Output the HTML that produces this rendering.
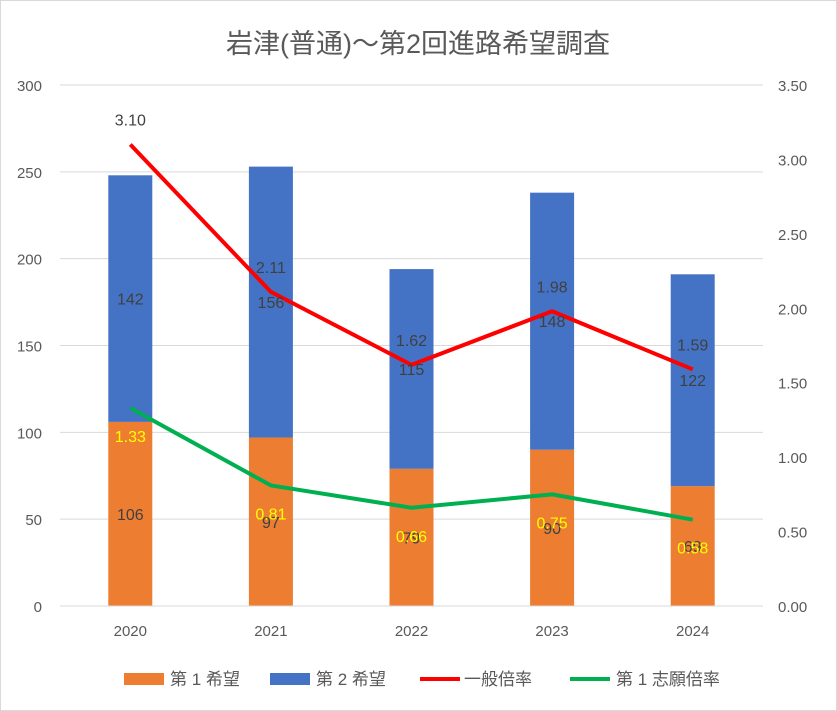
<!DOCTYPE html>
<html><head><meta charset="utf-8">
<style>
body{margin:0;background:#fff;}
svg{display:block;font-family:"Liberation Sans","Noto Sans CJK JP",sans-serif;}
</style></head>
<body>
<svg id="c" width="837" height="711">
<rect x="0.5" y="0.5" width="836" height="710" fill="#fff" stroke="#d9d9d9"/>
<text x="418" y="53" text-anchor="middle" font-size="27" fill="#595959">岩津(普通)～第2回進路希望調査</text>
<g id="grid"></g><g id="bars"></g><g id="lines"></g><g id="labels"></g><g id="axes"></g>
<g id="legend" font-size="17" fill="#595959">
<rect x="124" y="673" width="40" height="12" fill="#ed7d31"/>
<text x="170" y="685">第 1 希望</text>
<rect x="270" y="673" width="40" height="12" fill="#4472c4"/>
<text x="316" y="685">第 2 希望</text>
<line x1="420" y1="679" x2="460" y2="679" stroke="#ff0000" stroke-width="4"/>
<text x="464" y="685">一般倍率</text>
<line x1="570" y1="679" x2="610" y2="679" stroke="#00b050" stroke-width="4"/>
<text x="616" y="685">第 1 志願倍率</text>
</g>
</svg>
<script>
const categories=["2020","2021","2022","2023","2024"];
const first=[106,97,79,90,69];
const second=[142,156,115,148,122];
const general=[3.10,2.11,1.62,1.98,1.59];
const firstRatio=[1.33,0.81,0.66,0.75,0.58];
const leftTicks=[0,50,100,150,200,250,300];
const rightTicks=[0,0.5,1,1.5,2,2.5,3,3.5];
const NS="http://www.w3.org/2000/svg";
const x0=60,x1=763,yB=606,yT=85;
const yL=v=>yB-(v/300)*(yB-yT);
const yR=v=>yB-(v/3.5)*(yB-yT);
const step=(x1-x0)/categories.length;
const xc=i=>x0+step*(i+0.5);
function mk(p,tag,a,t){const e=document.createElementNS(NS,tag);for(const k in a)e.setAttribute(k,a[k]);if(t!==undefined)e.textContent=t;document.getElementById(p).appendChild(e);return e;}
leftTicks.forEach(v=>{
 if(v>0){const g=mk("grid","line",{x1:x0,x2:x1,y1:yL(v),y2:yL(v),stroke:"#d9d9d9"});
 
 }
 const t=mk("axes","text",{x:42,y:yL(v)+6,"text-anchor":"end","font-size":"15",fill:"#595959"},v);
 
 
});
const base=mk("axes","line",{x1:x0,x2:x1,y1:yB,y2:yB,stroke:"#d9d9d9"});


rightTicks.forEach(v=>{
 const t=mk("axes","text",{x:778,y:yR(v)+6,"font-size":"15",fill:"#595959"},v.toFixed(2));
 
 
});
categories.forEach((c,i)=>{
 const t=mk("axes","text",{x:xc(i),y:636,"text-anchor":"middle","font-size":"15",fill:"#595959"},c);
 
 
 const bw=44;
 const b1=mk("bars","rect",{x:xc(i)-bw/2,y:yL(first[i]),width:bw,height:yB-yL(first[i]),fill:"#ed7d31"});
 
 
 const tot=first[i]+second[i];
 const b2=mk("bars","rect",{x:xc(i)-bw/2,y:yL(tot),width:bw,height:yL(first[i])-yL(tot),fill:"#4472c4"});
 
 
 const l1=mk("labels","text",{x:xc(i),y:yL(first[i]/2)+6,"text-anchor":"middle","font-size":"16",fill:"#404040"},first[i]);
 
 
 const l2=mk("labels","text",{x:xc(i),y:yL(first[i]+second[i]/2)+6,"text-anchor":"middle","font-size":"16",fill:"#404040"},second[i]);
 
 
});
function line(arr,color,name,dy,lc){
 const p=mk("lines","polyline",{points:arr.map((v,i)=>xc(i)+","+yR(v)).join(" "),fill:"none",stroke:color,"stroke-width":4,"stroke-linejoin":"round"});
 
 
 arr.forEach((v,i)=>{
  const t=mk("labels","text",{x:xc(i),y:yR(v)+dy,"text-anchor":"middle","font-size":"16",fill:lc},v.toFixed(2));
  
  
 });
}
line(general,"#ff0000","line-general-ratio",-19,"#404040");
line(firstRatio,"#00b050","line-first-ratio",34,"#ffff00");
</script>
</body></html>
